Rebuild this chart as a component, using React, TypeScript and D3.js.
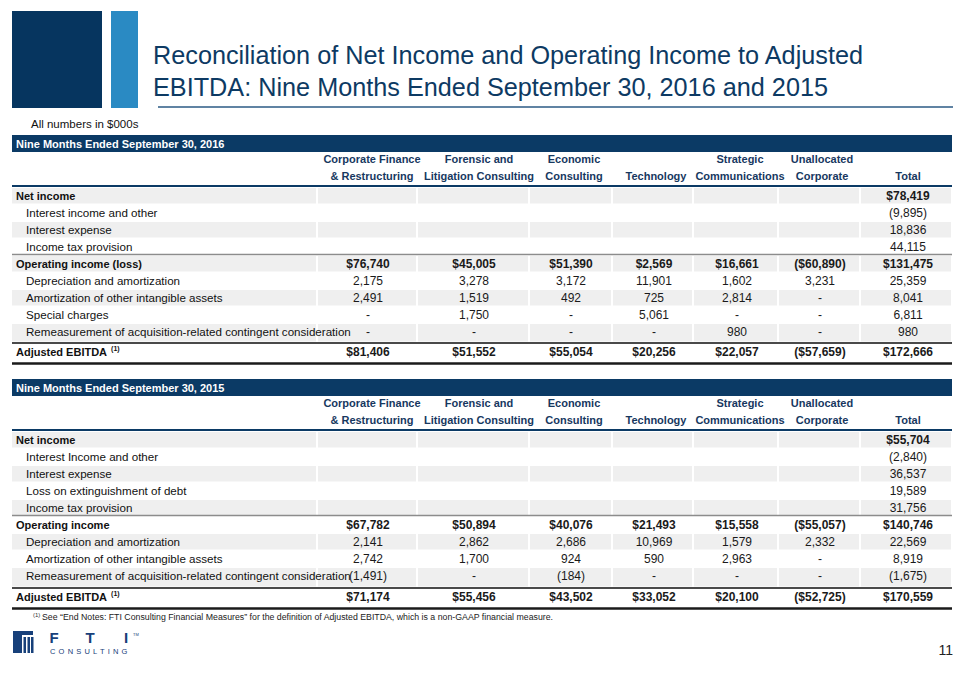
import React from "react";
import * as d3 from "d3";

const titleLines = [
  "Reconciliation of Net Income and Operating Income to Adjusted",
  "EBITDA: Nine Months Ended September 30, 2016 and 2015",
];
const unitsNote = "All numbers in $000s";

const columnTop = ["Corporate Finance", "Forensic and", "Economic", "", "Strategic", "Unallocated", ""];
const columnBottom = ["& Restructuring", "Litigation Consulting", "Consulting", "Technology", "Communications", "Corporate", "Total"];

const title2016 = "Nine Months Ended September 30, 2016";
const labels2016 = [
  "Net income",
  "Interest income and other",
  "Interest expense",
  "Income tax provision",
  "Operating income (loss)",
  "Depreciation and amortization",
  "Amortization of other intangible assets",
  "Special charges",
  "Remeasurement of acquisition-related contingent consideration",
  "Adjusted EBITDA",
];
const kinds2016 = ["bold", "sub", "sub", "sub", "bold", "sub", "sub", "sub", "sub", "adj"];
const values2016 = [
  ["", "", "", "", "", "", "$78,419"],
  ["", "", "", "", "", "", "(9,895)"],
  ["", "", "", "", "", "", "18,836"],
  ["", "", "", "", "", "", "44,115"],
  ["$76,740", "$45,005", "$51,390", "$2,569", "$16,661", "($60,890)", "$131,475"],
  ["2,175", "3,278", "3,172", "11,901", "1,602", "3,231", "25,359"],
  ["2,491", "1,519", "492", "725", "2,814", "-", "8,041"],
  ["-", "1,750", "-", "5,061", "-", "-", "6,811"],
  ["-", "-", "-", "-", "980", "-", "980"],
  ["$81,406", "$51,552", "$55,054", "$20,256", "$22,057", "($57,659)", "$172,666"],
];

const title2015 = "Nine Months Ended September 30, 2015";
const labels2015 = [
  "Net income",
  "Interest Income and other",
  "Interest expense",
  "Loss on extinguishment of debt",
  "Income tax provision",
  "Operating income",
  "Depreciation and amortization",
  "Amortization of other intangible assets",
  "Remeasurement of acquisition-related contingent consideration",
  "Adjusted EBITDA",
];
const kinds2015 = ["bold", "sub", "sub", "sub", "sub", "bold", "sub", "sub", "sub", "adj"];
const values2015 = [
  ["", "", "", "", "", "", "$55,704"],
  ["", "", "", "", "", "", "(2,840)"],
  ["", "", "", "", "", "", "36,537"],
  ["", "", "", "", "", "", "19,589"],
  ["", "", "", "", "", "", "31,756"],
  ["$67,782", "$50,894", "$40,076", "$21,493", "$15,558", "($55,057)", "$140,746"],
  ["2,141", "2,862", "2,686", "10,969", "1,579", "2,332", "22,569"],
  ["2,742", "1,700", "924", "590", "2,963", "-", "8,919"],
  ["(1,491)", "-", "(184)", "-", "-", "-", "(1,675)"],
  ["$71,174", "$55,456", "$43,502", "$33,052", "$20,100", "($52,725)", "$170,559"],
];

const footnote =
  "See \u201CEnd Notes: FTI Consulting Financial Measures\u201D for the definition of Adjusted EBITDA, which is a  non-GAAP financial measure.";
const pageNumber = "11";

const FONT = "'Liberation Sans', Arial, sans-serif";
const NAVY = "#0b3a65";
const HEAD = "#17385f";
const SHADE = "#efefef";

// layout
const colEdges = [12, 317, 417, 529, 612, 693, 778, 860, 952];
const colIdx = d3.range(7);
const valueX = d3.scaleOrdinal<number, number>().domain(colIdx).range([368, 474, 571, 654, 737, 820, 908]);
const headX = d3.scaleOrdinal<number, number>().domain(colIdx).range([372, 479, 574, 656, 740, 822, 908]);

function Table({ top, title, labels, kinds, values, remeasH }: any) {
  const rowStart = top + 52;
  const heights = labels.map((l: string, i: number) =>
    kinds[i] === "adj" ? 20 : l.startsWith("Remeasurement") ? remeasH : 17
  );
  const tops: number[] = [];
  let acc = rowStart;
  heights.forEach((h: number) => {
    tops.push(acc);
    acc += h;
  });
  const firstBold = kinds.findIndex((k: string, i: number) => i > 0 && k === "bold");
  const adjI = kinds.indexOf("adj");
  return (
    <g>
      <rect x={12} y={top} width={940} height={17} fill={NAVY} />
      <text x={16} y={top + 13} fill="#fff" fontSize={11} fontWeight="bold" fontFamily={FONT}>
        {title}
      </text>
      {colIdx.map((c) => (
        <g key={c}>
          <text x={headX(c)} y={top + 28} textAnchor="middle" fontSize={11} fontWeight="bold" fill={HEAD} fontFamily={FONT}>
            {columnTop[c]}
          </text>
          <text x={headX(c)} y={top + 45} textAnchor="middle" fontSize={11} fontWeight="bold" fill={HEAD} fontFamily={FONT}>
            {columnBottom[c]}
          </text>
        </g>
      ))}
      <line x1={12} x2={952} y1={top + 51} y2={top + 51} stroke={NAVY} strokeWidth={2} />
      {labels.map((l: string, i: number) => {
        const y0 = tops[i];
        const h = heights[i];
        const shaded = i % 2 === 0 && kinds[i] !== "adj";
        const isBold = kinds[i] !== "sub";
        const base = kinds[i] === "adj" ? y0 + 14 : y0 + 12.5;
        return (
          <g key={i}>
            {shaded &&
              d3.range(8).map((k) => (
                <rect
                  key={k}
                  x={colEdges[k] + (k > 0 ? 1 : 0)}
                  y={y0 + 1}
                  width={colEdges[k + 1] - colEdges[k] - (k > 0 ? 1 : 0) - 1}
                  height={h - 1.5}
                  fill={SHADE}
                />
              ))}
            <text
              x={isBold ? 16 : 26}
              y={base}
              fontSize={isBold ? 11 : 11.6}
              fontWeight={isBold ? "bold" : "normal"}
              fill="#111"
              fontFamily={FONT}
            >
              {l}
              {kinds[i] === "adj" && (
                <tspan dx={4} dy={-5} fontSize={7}>
                  (1)
                </tspan>
              )}
            </text>
            {values[i].map((v: string, c: number) =>
              v ? (
                <text
                  key={c}
                  x={valueX(c)}
                  y={base}
                  textAnchor="middle"
                  fontSize={12}
                  fontWeight={isBold ? "bold" : "normal"}
                  fill="#1a1a1a"
                  fontFamily={FONT}
                >
                  {v}
                </text>
              ) : null
            )}
          </g>
        );
      })}
      <line x1={12} x2={952} y1={tops[firstBold] - 0.5} y2={tops[firstBold] - 0.5} stroke="#8c8c8c" strokeWidth={1.5} />
      <line x1={12} x2={952} y1={tops[adjI] + 1} y2={tops[adjI] + 1} stroke="#4a4a4a" strokeWidth={2} />
      <line x1={12} x2={952} y1={tops[adjI] + 21.5} y2={tops[adjI] + 21.5} stroke="#1a1a1a" strokeWidth={2.5} />
    </g>
  );
}

export default function App() {
  return (
    <svg width={964} height={680} style={{ position: "absolute", left: 0, top: 0, background: "#fff" }}>
      <rect x={0} y={0} width={964} height={680} fill="#fff" />
      {/* logo blocks */}
      <rect x={12} y={11} width={90} height={97} fill="#06355f" />
      <rect x={111} y={11} width={27} height={97} fill="#2a8ac3" />
      {titleLines.map((t, i) => (
        <text
          key={i}
          x={153}
          y={64 + i * 32}
          fontSize={25}
          fill="#0d3a63"
          fontFamily={FONT}
          textLength={i === 0 ? 710 : 675}
          lengthAdjust="spacingAndGlyphs"
        >
          {t}
        </text>
      ))}
      <line x1={158} x2={953} y1={107} y2={107} stroke="#2b5a85" strokeWidth={1.5} />
      <text x={31} y={128} fontSize={11.5} fill="#111" fontFamily={FONT}>
        {unitsNote}
      </text>

      <Table top={135} title={title2016} labels={labels2016} kinds={kinds2016} values={values2016} remeasH={19} />
      <Table top={379} title={title2015} labels={labels2015} kinds={kinds2015} values={values2015} remeasH={20} />

      <text x={33} y={617} fontSize={6} fill="#333" fontFamily={FONT}>
        (1)
      </text>
      <text x={42} y={620} fontSize={8.5} fill="#222" fontFamily={FONT} textLength={511} lengthAdjust="spacingAndGlyphs">
        {footnote}
      </text>

      {/* FTI logo */}
      <g fill="#17407a">
        <rect x={13} y={631} width={20} height={4} />
        <rect x={13} y={631} width={9} height={22} />
        <rect x={23.5} y={637} width={2.5} height={16} />
        <rect x={27.5} y={637} width={2.5} height={16} />
        <rect x={31} y={637} width={2.5} height={16} />
      </g>
      <g fill="#17407a" fontFamily={FONT} fontSize={15}>
        <text x={54} y={643} textAnchor="middle" fontWeight="bold">F</text>
        <text x={90} y={643} textAnchor="middle" fontWeight="bold">T</text>
        <text x={126} y={643} textAnchor="middle" fontWeight="bold">I</text>
        <text x={133} y={636} fontSize={4}>TM</text>
        <text x={50} y={654} fontSize={7.5} letterSpacing={3.2}>CONSULTING</text>
      </g>
      <text x={953} y={655} textAnchor="end" fontSize={14} fill="#222" fontFamily={FONT}>
        {pageNumber}
      </text>
    </svg>
  );
}
